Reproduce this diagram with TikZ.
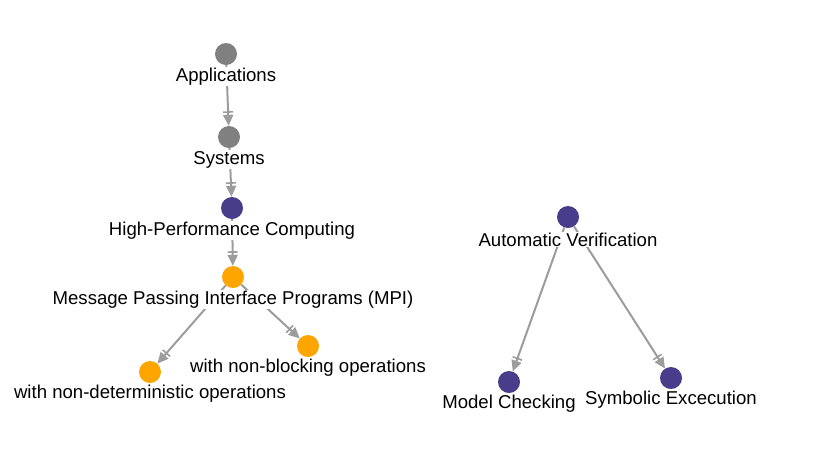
\documentclass[tikz,border=0pt]{standalone}
\usepackage{fontspec}
\setmainfont{Liberation Sans}
\usetikzlibrary{arrows.meta}
\definecolor{topicgray}{HTML}{808080}
\definecolor{topicpurple}{HTML}{483D8B}
\definecolor{topicorange}{HTML}{FFA500}
\definecolor{linkgray}{HTML}{9C9C9C}
\begin{document}
\begin{tikzpicture}[x=1pt,y=-1pt,
  dot/.style={circle,inner sep=0pt,minimum size=22pt},
  graydot/.style={dot,fill=topicgray},
  purpledot/.style={dot,fill=topicpurple},
  orangedot/.style={dot,fill=topicorange},
  caption/.style={fill=white,inner sep=1pt,font=\fontsize{18.6}{22}\selectfont,text=black},
  link/.style={draw=linkgray,line width=2pt,
    -{Bar[width=10pt,line width=1.6pt,sep=2pt]Triangle[length=11pt,width=10pt]}}]
\useasboundingbox (0,0) rectangle (840,456);

% topic circles
\node[graydot]   (app)  at (226,54)  {};
\node[graydot]   (sys)  at (229,137) {};
\node[purpledot] (hpc)  at (232,208) {};
\node[orangedot] (mpi)  at (233,277) {};
\node[orangedot] (ndet) at (150,372) {};
\node[orangedot] (nblk) at (308,346) {};
\node[purpledot] (av)   at (568,217) {};
\node[purpledot] (mc)   at (509,382) {};
\node[purpledot] (se)   at (671,378) {};

% links between topics
\draw[link] (app) -- (sys);
\draw[link] (sys) -- (hpc);
\draw[link] (hpc) -- (mpi);
\draw[link] (mpi) -- (ndet);
\draw[link] (mpi) -- (nblk);
\draw[link] (av) -- (mc);
\draw[link] (av) -- (se);

% captions
\node[caption] (lapp)  at (226,76.5)  {Applications};
\node[caption] (lsys)  at (229,159.5) {Systems};
\node[caption] (lhpc)  at (232,230.5) {High-Performance Computing};
\node[caption] (lmpi)  at (233,299.5) {Message Passing Interface Programs (MPI)};
\node[caption] (lndet) at (150,393.5) {with non-deterministic operations};
\node[caption] (lnblk) at (308,367.5) {with non-blocking operations};
\node[caption] (lav)   at (568,239.5) {Automatic Verification};
\node[caption] (lmc)   at (509,403.5) {Model Checking};
\node[caption] (lse)   at (671,399.5) {Symbolic Excecution};
\end{tikzpicture}
\end{document}
